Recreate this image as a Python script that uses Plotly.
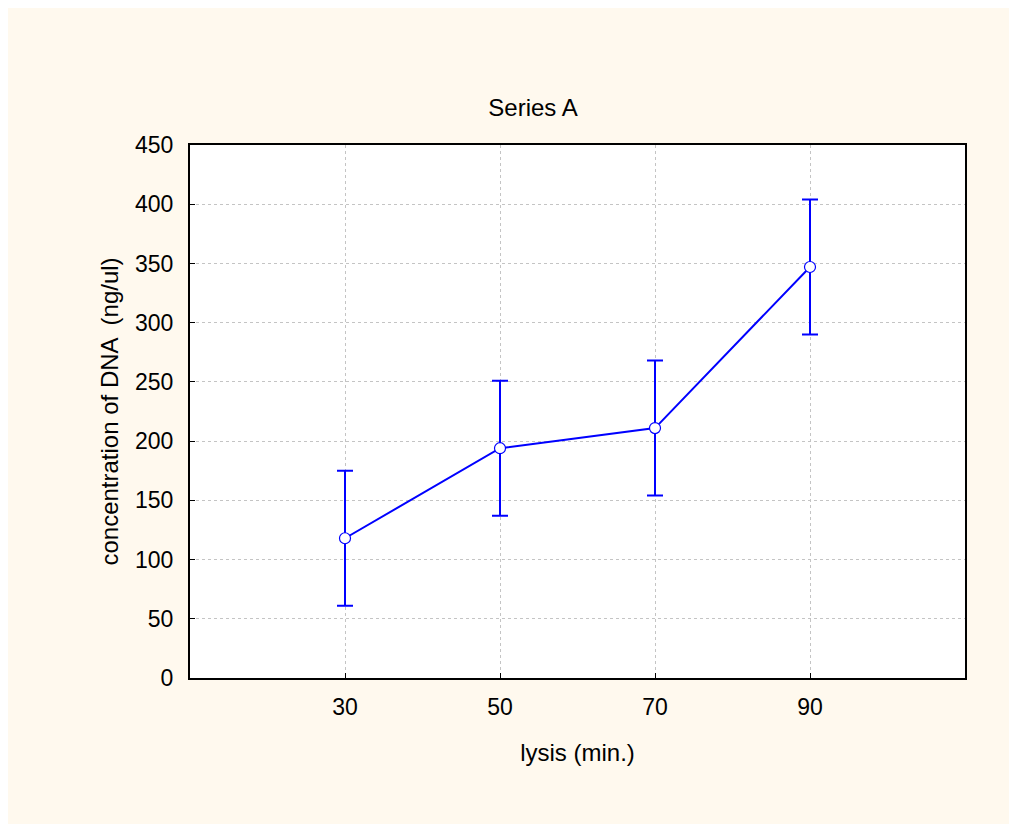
import plotly.graph_objects as go

lysis_min = [30, 50, 70, 90]
dna_conc = [118, 194, 211, 347]
err_plus = [57, 57, 57, 57]
x_ticks = [30, 50, 70, 90]
y_ticks = [0, 50, 100, 150, 200, 250, 300, 350, 400, 450]

blue = "#0000FF"
font_family = "Liberation Sans, Arial, sans-serif"

fig = go.Figure()
fig.add_trace(go.Scatter(
    x=lysis_min, y=dna_conc,
    mode="lines+markers",
    line=dict(color=blue, width=2),
    marker=dict(symbol="circle", size=11, color="white", line=dict(color=blue, width=1.2)),
    error_y=dict(type="data", array=err_plus, visible=True, color=blue, thickness=2, width=8),
    showlegend=False,
))

fig.update_layout(
    width=1017, height=824,
    paper_bgcolor="#FFF9EE",
    plot_bgcolor="white",
    margin=dict(l=182, r=60, t=137, b=154),
    font=dict(family=font_family, color="black", size=22),
    title=dict(text="Series A", x=(533 - 8) / 1017, xanchor="center", y=1 - 100 / 824, yanchor="middle",
               font=dict(size=24, family=font_family, color="black")),
    xaxis=dict(
        range=[10, 110], tickvals=x_ticks, ticktext=[str(v) for v in x_ticks],
        showgrid=True, gridcolor="#C4C4C4", griddash="dot", gridwidth=1,
        ticks="inside", ticklen=5, tickcolor="black",
        showline=True, linecolor="black", linewidth=2, mirror=True,
        zeroline=False, ticklabelstandoff=7,
        title=dict(text="lysis (min.)", standoff=26, font=dict(size=24)),
        tickfont=dict(size=23),
    ),
    yaxis=dict(
        range=[0, 450], tickvals=y_ticks,
        showgrid=True, gridcolor="#C4C4C4", griddash="dot", gridwidth=1,
        ticks="inside", ticklen=5, tickcolor="black",
        showline=True, linecolor="black", linewidth=2, mirror=True,
        zeroline=False, ticklabelstandoff=10,
        title=dict(text="concentration of DNA  (ng/ul)", standoff=10, font=dict(size=24)),
        tickfont=dict(size=23),
    ),
)

fig.write_html("out.html")
